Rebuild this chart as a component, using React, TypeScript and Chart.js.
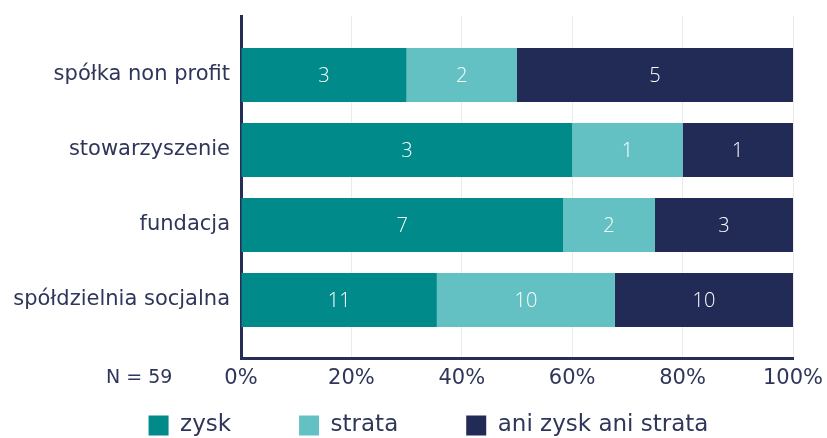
import React, { useEffect, useRef } from "react";
import { Chart, registerables } from "chart.js";

Chart.register(...registerables);

const categories = ["spółka non profit", "stowarzyszenie", "fundacja", "spółdzielnia socjalna"];
const seriesNames = ["zysk", "strata", "ani zysk ani strata"];
const zysk = [3, 3, 7, 11];
const strata = [2, 1, 2, 10];
const ani = [5, 1, 3, 10];
const xTicks = [0, 20, 40, 60, 80, 100];
const sampleNote = "N = 59";

const colors = ["#008A8A", "#63C1C4", "#222B55"];
const textColor = "#2F365A";
const axisColor = "#262D57";
const FONT = "'DejaVu Sans', 'Noto Sans', sans-serif";
const LABEL_FONT = "'Open Sans', 'DejaVu Sans', sans-serif";

const counts = [zysk, strata, ani];
const totals = categories.map((_, i) => zysk[i] + strata[i] + ani[i]);

const LEGEND_PAD = 68;

const valueLabels = {
  id: "valueLabels",
  afterDatasetsDraw(chart: any) {
    const ctx = chart.ctx;
    ctx.save();
    ctx.font = `300 20px ${LABEL_FONT}`;
    ctx.fillStyle = "#FFFFFF";
    ctx.textAlign = "center";
    ctx.textBaseline = "middle";
    chart.data.datasets.forEach((ds: any, di: number) => {
      const meta = chart.getDatasetMeta(di);
      meta.data.forEach((bar: any, i: number) => {
        const c = counts[di][i];
        if (!c) return;
        const x = (bar.x + bar.base) / 2;
        ctx.fillText(String(c), x, bar.y + 1);
      });
    });
    ctx.restore();
  },
};

const noteText = {
  id: "noteText",
  afterDraw(chart: any) {
    const ctx = chart.ctx;
    const area = chart.chartArea;
    ctx.save();
    ctx.font = `19px ${FONT}`;
    ctx.fillStyle = textColor;
    ctx.textAlign = "left";
    ctx.textBaseline = "middle";
    ctx.fillText(sampleNote, area.left - 135, area.bottom + 20);
    ctx.restore();
  },
};

const legendShift = {
  id: "legendShift",
  afterLayout(chart: any) {
    const lg = chart.legend;
    if (!lg) return;
    lg.top = 414 - LEGEND_PAD;
    lg.bottom = chart.height;
    lg.height = lg.bottom - lg.top;
    lg.left += 32;
    lg.right += 32;
  },
};

export default function App() {
  const ref = useRef<HTMLCanvasElement>(null);

  useEffect(() => {
    if (!ref.current) return;
    const chart = new Chart(ref.current, {
      type: "bar",
      data: {
        datasets: seriesNames.map((name, di) => ({
          label: name,
          data: categories.map((_, i) => ({ x: (counts[di][i] / totals[i]) * 100, y: i })),
          backgroundColor: colors[di],
          borderWidth: 0,
          barPercentage: 0.72,
          categoryPercentage: 1,
        })),
      },
      options: {
        indexAxis: "y",
        animation: false,
        responsive: false,
        layout: { padding: { top: 16, right: 34, left: 0, bottom: 0 } },
        plugins: {
          tooltip: { enabled: false },
          legend: {
            position: "bottom",
            maxHeight: 45,
            labels: {
              boxWidth: 20,
              boxHeight: 20,
              padding: LEGEND_PAD,
              color: textColor,
              font: { size: 23, family: FONT },
            },
          },
        },
        scales: {
          x: {
            type: "linear",
            min: 0,
            max: 100,
            stacked: true,
            afterBuildTicks: (s: any) => {
              s.ticks = xTicks.map((v) => ({ value: v }));
            },
            ticks: {
              callback: (v: any) => `${v}%`,
              color: textColor,
              font: { size: 21, family: FONT },
              padding: 8,
              maxRotation: 0,
            },
            grid: { color: "#EBEBEB", lineWidth: 1, drawTicks: false },
            border: { color: axisColor, width: 3 },
            afterFit: (s: any) => {
              s.height = 35;
              s.paddingLeft = 0;
              s.paddingRight = 0;
            },
          },
          y: {
            type: "linear",
            reverse: true,
            offset: false,
            min: -0.787,
            max: 3.773,
            stacked: true,
            afterBuildTicks: (s: any) => {
              s.ticks = categories.map((_, i) => ({ value: i }));
            },
            ticks: {
              callback: (v: any) => categories[v],
              color: textColor,
              font: { size: 21, family: FONT },
              padding: 11,
            },
            grid: { display: false, drawTicks: false, offset: false },
            border: { color: axisColor, width: 3 },
            afterFit: (s: any) => {
              s.width = 241;
              s.paddingTop = 0;
              s.paddingBottom = 0;
            },
          },
        },
      } as any,
      plugins: [valueLabels, noteText, legendShift],
    });
    return () => chart.destroy();
  }, []);

  return (
    <div style={{ position: "fixed", left: 0, top: 0, width: 827, height: 438, background: "#fff" }}>
      <canvas ref={ref} width={827} height={438} />
    </div>
  );
}
